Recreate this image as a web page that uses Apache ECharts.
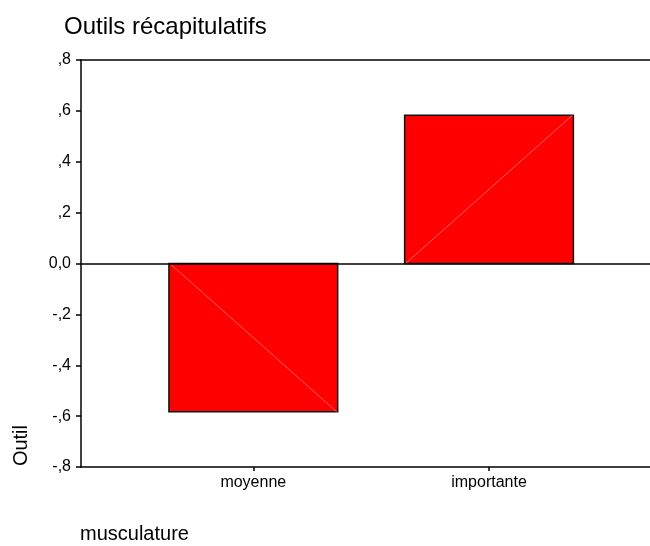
<!DOCTYPE html>
<html lang="fr">
<head>
    <meta charset="UTF-8">
    <title>Outils récapitulatifs</title>
    <script src="https://cdn.jsdelivr.net/npm/echarts@6/dist/echarts.min.js"></script>
</head>
<body style="margin:0;">
<div id="myChart" style="width: 650px;height: 546px;"></div>
<script>
    // data
    var categories = ['moyenne', 'importante'];
    var outilMeans = [-0.583, 0.583];

    var font = '"Liberation Sans", Arial, sans-serif';
    var myChart = echarts.init(document.getElementById('myChart'));

    var seriesData = categories.map(function (c, i) { return [i, outilMeans[i]]; });

    function yLabel(v) {
        var s = v.toFixed(1).replace('.', ',');
        if (s === '0,0') return s;
        return s.replace(/^(-?)0,/, '$1,');
    }

    var axisLine = { show: true, onZero: false, lineStyle: { color: '#000', width: 1.5 } };

    option = {
        backgroundColor: '#fff',
        animation: false,
        title: {
            text: 'Outils récapitulatifs',
            left: 59,
            top: 10,
            textStyle: { fontFamily: font, fontSize: 24, fontWeight: 'normal', color: '#000' }
        },
        grid: { left: 81, top: 60, right: 0, height: 407 },
        xAxis: [{
            type: 'value',
            min: -0.731,
            max: 1.683,
            position: 'bottom',
            axisLine: axisLine,
            splitLine: { show: false },
            axisTick: { show: true, length: 4, customValues: [0, 1], lineStyle: { color: '#000', width: 1.5 } },
            axisLabel: {
                customValues: [0, 1],
                formatter: function (v) { return categories[Math.round(v)]; },
                margin: 8,
                color: '#000', fontFamily: font, fontSize: 16
            }
        }, {
            type: 'value',
            min: -0.731,
            max: 1.683,
            position: 'top',
            axisLine: axisLine,
            splitLine: { show: false },
            axisTick: { show: false },
            axisLabel: { show: false }
        }],
        yAxis: {
            type: 'value',
            min: -0.8,
            max: 0.8,
            interval: 0.2,
            position: 'left',
            axisLine: axisLine,
            splitLine: { show: false },
            axisTick: { show: true, length: 5, lineStyle: { color: '#000', width: 1.5 } },
            axisLabel: { formatter: yLabel, margin: 10, color: '#000', fontFamily: font, fontSize: 16 }
        },
        graphic: [{
            type: 'text',
            left: 11,
            top: 425,
            rotation: Math.PI / 2,
            style: { text: 'Outil', fill: '#000', font: '20px ' + font }
        }, {
            type: 'text',
            left: 80,
            top: 524,
            style: { text: 'musculature', fill: '#000', font: '20px ' + font }
        }],
        series: [{
            type: 'custom',
            xAxisIndex: 0,
            data: seriesData,
            renderItem: function (params, api) {
                var x = api.value(0), v = api.value(1);
                var p0 = api.coord([x, 0]);
                var p1 = api.coord([x, v]);
                var w = api.size([0.716, 0])[0];
                var left = p0[0] - w / 2, right = p0[0] + w / 2;
                return {
                    type: 'group',
                    children: [{
                        type: 'rect',
                        shape: { x: left, y: Math.min(p0[1], p1[1]), width: w, height: Math.abs(p1[1] - p0[1]) },
                        style: { fill: '#ff0000', stroke: '#111', lineWidth: 1.5 }
                    }, {
                        type: 'line',
                        shape: { x1: left + 1, y1: p0[1], x2: right - 1, y2: p1[1] },
                        style: { stroke: '#ff7a7a', lineWidth: 0.8 }
                    }]
                };
            },
            markLine: {
                silent: true,
                symbol: 'none',
                label: { show: false },
                lineStyle: { color: '#000', width: 1.5, type: 'solid' },
                data: [{ yAxis: 0 }]
            }
        }]
    };

    myChart.setOption(option);
</script>
</body>
</html>
